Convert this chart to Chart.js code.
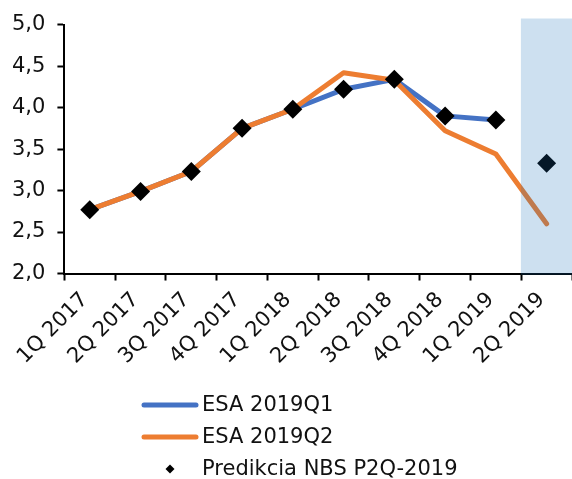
<!DOCTYPE html>
<html>
<head>
<meta charset="utf-8">
<script src="https://cdn.jsdelivr.net/npm/chart.js@4/dist/chart.umd.min.js"></script>
<style>
  html, body { margin: 0; padding: 0; background: #ffffff; overflow: hidden; }
  #wrap { width: 572px; height: 479px; position: relative; }
  #chart { display: block; }
</style>
</head>
<body>
<div id="wrap"><canvas id="chart"></canvas></div>
<script>
// Quarterly values (%)
const quarters = ['1Q 2017', '2Q 2017', '3Q 2017', '4Q 2017', '1Q 2018',
                  '2Q 2018', '3Q 2018', '4Q 2018', '1Q 2019', '2Q 2019'];
const esa2019Q1 = [2.77, 2.99, 3.23, 3.75, 3.98, 4.22, 4.34, 3.90, 3.85, null];
const esa2019Q2 = [2.77, 2.99, 3.23, 3.75, 3.98, 4.42, 4.33, 3.72, 3.44, 2.60];
const nbsPrediction = [2.77, 2.99, 3.23, 3.75, 3.98, 4.22, 4.34, 3.90, 3.85, 3.33];
// Shaded forecast quarter (floating bar: from / to)
const forecastBand = [null, null, null, null, null, null, null, null, null, [1.99, 5.07]];

const Y_MIN = 2, Y_MAX = 5, Y_STEP = 0.5;

const BLUE = '#4472C4';
const ORANGE = '#ED7D31';
const INK = '#111111';
const FONT = '"DejaVu Sans", Verdana, sans-serif';
const FONT_SIZE = 21;

// Vertical legend under the axis labels
const bottomLegend = {
  id: 'bottomLegend',
  afterDraw(chart) {
    const ctx = chart.ctx;
    const rows = [
      { ds: chart.data.datasets[0], kind: 'line', y: 405 },
      { ds: chart.data.datasets[1], kind: 'line', y: 437 },
      { ds: chart.data.datasets[2], kind: 'point', y: 469 }
    ];
    ctx.save();
    ctx.font = FONT_SIZE + 'px ' + FONT;
    ctx.textBaseline = 'middle';
    ctx.textAlign = 'left';
    rows.forEach(r => {
      if (r.kind === 'line') {
        ctx.strokeStyle = r.ds.borderColor;
        ctx.lineWidth = 5;
        ctx.lineCap = 'round';
        ctx.beginPath();
        ctx.moveTo(144, r.y);
        ctx.lineTo(196, r.y);
        ctx.stroke();
      } else {
        ctx.fillStyle = r.ds.pointBackgroundColor;
        ctx.beginPath();
        ctx.moveTo(170, r.y - 4.5);
        ctx.lineTo(174.5, r.y);
        ctx.lineTo(170, r.y + 4.5);
        ctx.lineTo(165.5, r.y);
        ctx.closePath();
        ctx.fill();
      }
      ctx.fillStyle = INK;
      ctx.fillText(r.ds.label, 202, r.y + 1);
    });
    ctx.restore();
  }
};

new Chart(document.getElementById('chart'), {
  type: 'line',
  data: {
    labels: quarters,
    datasets: [
      {
        label: 'ESA 2019Q1',
        data: esa2019Q1,
        borderColor: BLUE,
        borderWidth: 5,
        pointRadius: 0,
        borderCapStyle: 'round',
        borderJoinStyle: 'round',
        tension: 0,
        order: 4
      },
      {
        label: 'ESA 2019Q2',
        data: esa2019Q2,
        borderColor: ORANGE,
        borderWidth: 5,
        pointRadius: 0,
        borderCapStyle: 'round',
        borderJoinStyle: 'round',
        tension: 0,
        order: 3
      },
      {
        label: 'Predikcia NBS P2Q-2019',
        data: nbsPrediction,
        showLine: false,
        pointStyle: 'rectRot',
        pointRadius: 9.5,
        pointBorderWidth: 0,
        pointBackgroundColor: '#000000',
        pointBorderColor: '#000000',
        order: 2
      },
      {
        type: 'bar',
        label: 'forecast',
        data: forecastBand,
        backgroundColor: 'rgba(23, 111, 185, 0.215)',
        borderWidth: 0,
        barPercentage: 1,
        categoryPercentage: 1,
        clip: false,
        order: 1
      }
    ]
  },
  options: {
    responsive: true,
    maintainAspectRatio: false,
    animation: false,
    layout: { autoPadding: false, padding: { left: 0, right: 0, top: 10, bottom: 103 } },
    plugins: {
      legend: { display: false },
      tooltip: { enabled: false }
    },
    scales: {
      x: {
        offset: true,
        // rotated labels stay inside the plot width; no extra side padding
        afterFit(scale) { scale.paddingRight = 0; scale.paddingLeft = 0; },
        grid: {
          display: true,
          offset: true,
          drawOnChartArea: false,
          drawTicks: true,
          tickLength: 7,
          tickWidth: 2,
          tickColor: '#000000'
        },
        border: { display: true, color: '#000000', width: 2 },
        ticks: {
          color: INK,
          font: { family: FONT, size: FONT_SIZE },
          minRotation: 45,
          maxRotation: 45,
          autoSkip: false,
          padding: 7,
          labelOffset: -5
        }
      },
      y: {
        min: Y_MIN,
        max: Y_MAX,
        grid: {
          display: true,
          drawOnChartArea: false,
          drawTicks: true,
          tickLength: 7,
          tickWidth: 2,
          tickColor: '#000000'
        },
        border: { display: true, color: '#000000', width: 2 },
        ticks: {
          stepSize: Y_STEP,
          color: INK,
          padding: 12,
          font: { family: FONT, size: FONT_SIZE },
          callback: v => v.toFixed(1).replace('.', ',')
        }
      }
    }
  },
  plugins: [bottomLegend]
});
</script>
</body>
</html>
